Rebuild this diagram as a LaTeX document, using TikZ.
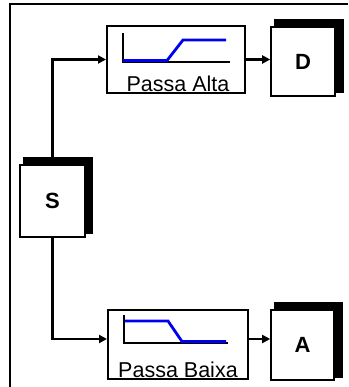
\documentclass[tikz,border=0pt]{standalone}
\usepackage{fontspec}
\setmainfont{Liberation Sans}
\usetikzlibrary{arrows.meta,backgrounds}
\definecolor{CurveBlue}{HTML}{0000F0}

\tikzset{
  block/.style={draw=black, line width=1.6pt, fill=white, inner sep=0pt},
  portbox/.style={block, minimum width=64pt, minimum height=70pt, font=\fontsize{22}{26}\selectfont\bfseries},
  filterbox/.style={block, line width=2pt},
  filtertext/.style={font=\fontsize{21.5}{24}\selectfont, anchor=base, inner sep=0pt},
  wire/.style={line width=2.6pt, -{Triangle[length=8pt,width=8pt]}},
  curve/.style={CurveBlue, line width=2.8pt},
}

\begin{document}
\begin{tikzpicture}[x=1pt,y=-1pt]
  \useasboundingbox (0,0) rectangle (348,387);
  % frame
  \draw[line width=2.4pt] (10,387) -- (10,4) -- (348,4);

  % blocks
  \node[portbox, minimum width=65pt, minimum height=72pt] (S) at (52.5,201) {S};
  \node[filterbox, minimum width=138pt, minimum height=67pt] (PA) at (176,59.5) {};
  \node[filterbox, minimum width=140pt, minimum height=69pt] (PB) at (178,344.5) {};
  \node[portbox, minimum height=69pt] (D) at (303,61.5) {D};
  \node[portbox, minimum width=63pt] (A) at (302.5,345) {A};

  \node[filtertext] (PAtext) at ([xshift=2pt,yshift=2.5pt]PA.south) {Passa Alta};
  \node[filtertext] (PBtext) at ([yshift=3pt]PB.south) {Passa Baixa};

  % shadows
  \begin{scope}[on background layer]
    \foreach \n/\dx/\dy in {S/7/4, D/8/4, A/8/3}
      \fill ([shift={(4,-7)}]\n.north west) rectangle ([shift={(\dx,-\dy)}]\n.south east);
  \end{scope}

  % filter icons
  \draw[line width=1.6pt] (123,33) -- (123,62) -- (230,62);
  \draw[curve] (123,60.5) -- (167,60.5) -- (183,40) -- (226,40);
  \draw[line width=1.6pt] (124,315) -- (124,343) -- (228,343);
  \draw[curve] (125,321) -- (168,321) -- (182,341.5) -- (226,341.5);

  % connections
  \draw[wire] (S.north) |- (PA.west);
  \draw[wire] (PA.east) -- (PA.east -| D.west);
  \draw[wire] (S.south) |- ([yshift=5.5pt]PB.west);
  \draw[wire, line width=1.8pt] ([yshift=5.5pt]PB.east) -- ([yshift=5.5pt]PB.east -| A.west);
\end{tikzpicture}
\end{document}
